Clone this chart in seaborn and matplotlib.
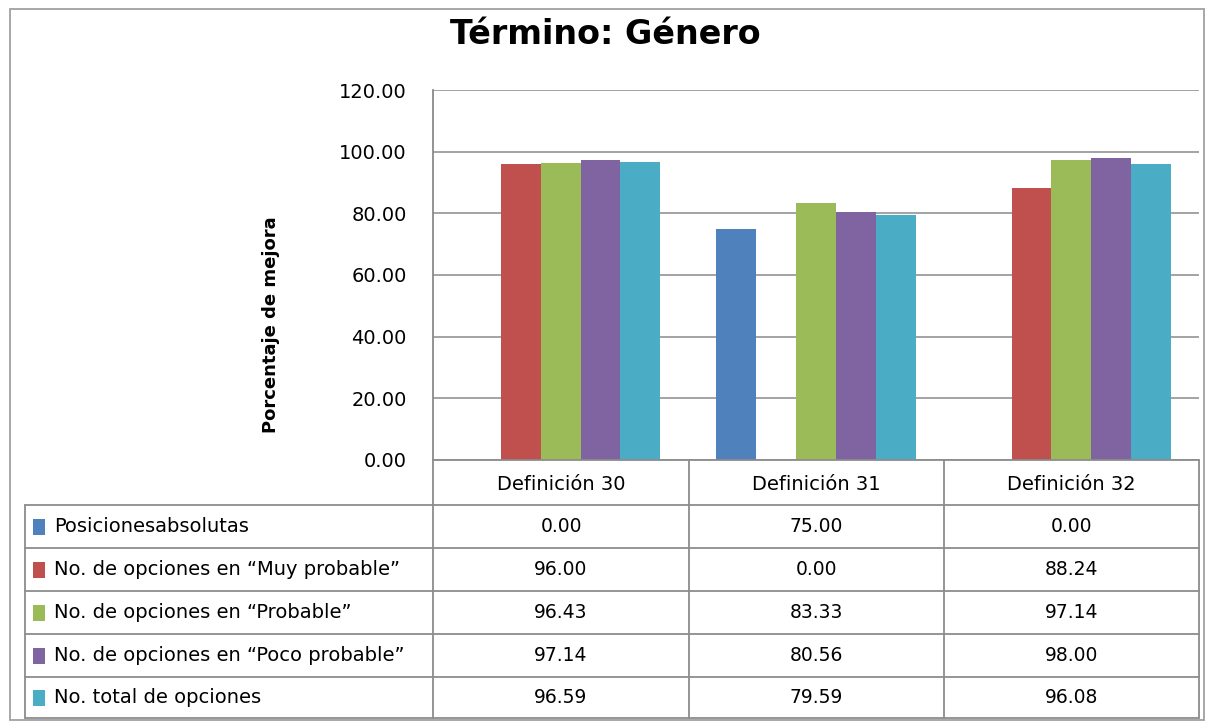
import numpy as np
import pandas as pd
import matplotlib
matplotlib.use('Agg')
import matplotlib.pyplot as plt
import seaborn as sns
from matplotlib.patches import Rectangle

categories = ['Definición 30', 'Definición 31', 'Definición 32']
series = ['Posicionesabsolutas',
          'No. de opciones en \u201cMuy probable\u201d',
          'No. de opciones en \u201cProbable\u201d',
          'No. de opciones en \u201cPoco probable\u201d',
          'No. total de opciones']
posiciones = [0.00, 75.00, 0.00]
muy_probable = [96.00, 0.00, 88.24]
probable = [96.43, 83.33, 97.14]
poco_probable = [97.14, 80.56, 98.00]
total = [96.59, 79.59, 96.08]
colors = ['#4F81BD', '#C0504D', '#9BBB59', '#8064A2', '#4BACC6']

values = [posiciones, muy_probable, probable, poco_probable, total]
rows = []
for s, vals in zip(series, values):
    for c, v in zip(categories, vals):
        rows.append({'cat': c, 'val': v, 'serie': s})
df = pd.DataFrame(rows)

sns.set_style('white')
plt.rcParams['font.family'] = ['DejaVu Sans']
plt.rcParams['text.color'] = 'black'
plt.rcParams['ytick.color'] = 'black'
plt.rcParams['axes.labelcolor'] = 'black'

W, H = 1205, 723
fig = plt.figure(figsize=(W / 100, H / 100), dpi=100)
ax = fig.add_axes([433 / W, 1 - 460 / H, (1199 - 433) / W, (460 - 90) / H])

sns.barplot(data=df, x='cat', y='val', hue='serie', palette=colors,
            width=0.78, gap=0, saturation=1, legend=False,
            edgecolor='none', linewidth=0, ax=ax)

ax.set_ylim(0, 120)
ax.set_yticks(np.arange(0, 121, 20))
ax.set_yticklabels([f'{t:.2f}' for t in np.arange(0, 121, 20)], fontsize=14)
ax.set_xticklabels([])
ax.set_xlabel('')
ax.set_ylabel('Porcentaje de mejora', fontsize=13, fontweight='bold')
ax.yaxis.set_label_coords((280 - 433) / (1199 - 433), (460 - 325) / (460 - 90))
ax.tick_params(length=0, pad=19)
ax.yaxis.grid(True, color='#8a8a8a', lw=1.1)
ax.set_axisbelow(True)
for side in ['top', 'right', 'bottom']:
    ax.spines[side].set_visible(False)
ax.spines['left'].set_color('#8a8a8a')
ax.spines['left'].set_linewidth(1.3)

# overlay in pixel coordinates for title, table and frame
ov = fig.add_axes([0, 0, 1, 1], zorder=5)
ov.set_xlim(0, W)
ov.set_ylim(H, 0)
ov.axis('off')
ov.patch.set_alpha(0)

gray = '#8c8c8c'
ov.add_patch(Rectangle((10, 9), 1194, 711, fill=False, ec='#a0a0a0', lw=1.3))
ov.text(605, 34, 'Término: Género', ha='center', va='center',
        fontsize=24, fontweight='bold')

col_x = [25, 433, 689, 944, 1199]
row_y = [505, 548, 591, 634, 677, 718]

# header row
ov.plot([433, 1199], [460, 460], color=gray, lw=1.3)
for x in col_x[1:]:
    ov.plot([x, x], [460, 505], color=gray, lw=1.3)
for i, c in enumerate(categories):
    ov.text((col_x[i + 1] + col_x[i + 2]) / 2, 484, c, ha='center', va='center', fontsize=14)

# data rows
for y in row_y:
    ov.plot([25, 1199], [y, y], color=gray, lw=1.3)
for x in col_x:
    ov.plot([x, x], [505, 718], color=gray, lw=1.3)
for r, (s, vals) in enumerate(zip(series, values)):
    yc = (row_y[r] + row_y[r + 1]) / 2
    ov.add_patch(Rectangle((33, yc - 8), 12, 16, color=colors[r], lw=0))
    ov.text(54, yc, s, ha='left', va='center', fontsize=14)
    for i, v in enumerate(vals):
        ov.text((col_x[i + 1] + col_x[i + 2]) / 2, yc, f'{v:.2f}',
                ha='center', va='center', fontsize=13.5)

fig.savefig('out.png', dpi=100)
